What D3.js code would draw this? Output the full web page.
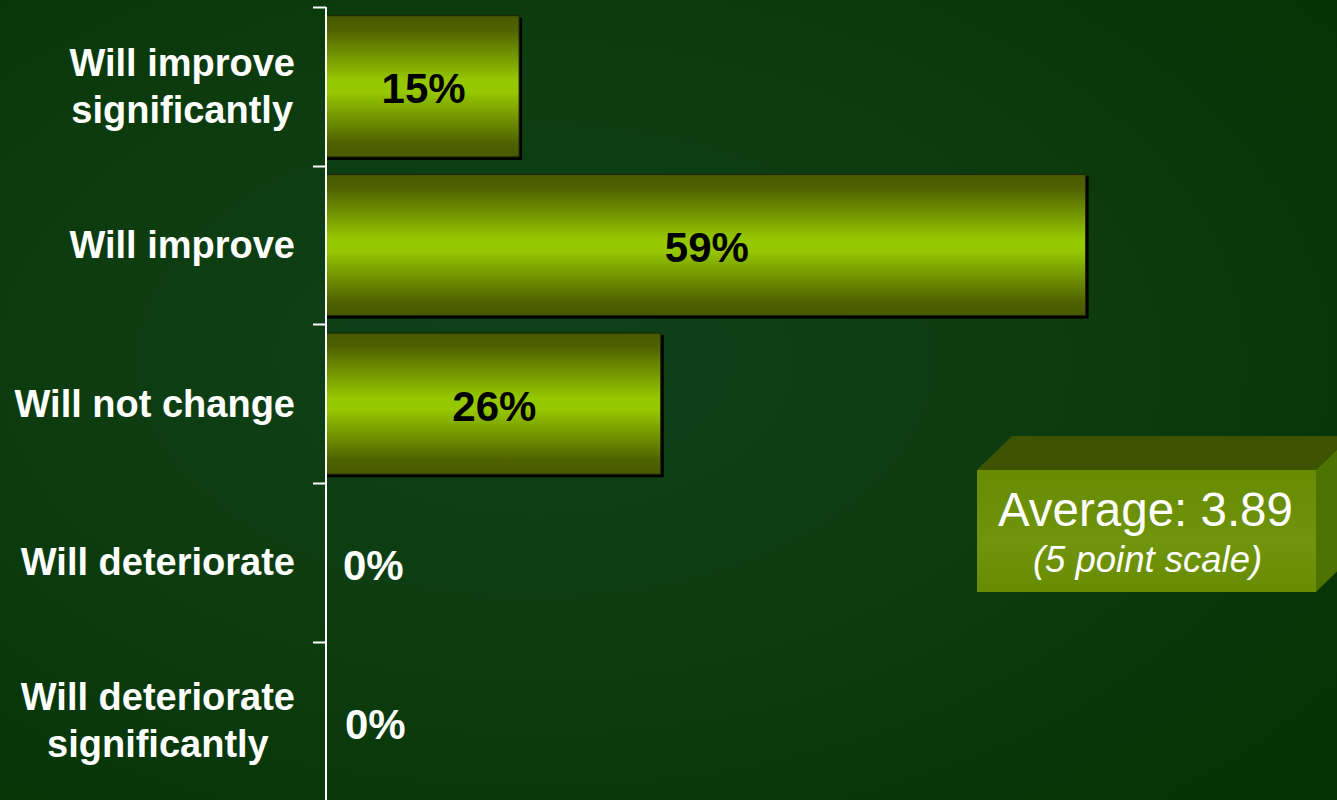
<!DOCTYPE html>
<html>
<head>
<meta charset="utf-8">
<script src="https://cdn.jsdelivr.net/npm/d3@7"></script>
<style>
  html, body { margin: 0; padding: 0; background: #0b3a0c; overflow: hidden; }
  svg { display: block; }
</style>
</head>
<body>
<svg id="chart" width="1337" height="800"></svg>
<script>
// Survey answers, top to bottom
const categories = [
  ["Will improve", "significantly"],
  ["Will improve"],
  ["Will not change"],
  ["Will deteriorate"],
  ["Will deteriorate", "significantly"]
];
const shares = [15, 59, 26, 0, 0];
const averageLabel = "Average: 3.89";
const scaleLabel = "(5 point scale)";

const W = 1337, H = 800;
const svg = d3.select("#chart");
const defs = svg.append("defs");

// Background: soft radial glow
const bg = defs.append("radialGradient").attr("id", "bg")
  .attr("cx", "40%").attr("cy", "45%").attr("r", "75%");
bg.append("stop").attr("offset", "0%").attr("stop-color", "#10411a");
bg.append("stop").attr("offset", "55%").attr("stop-color", "#0c3b0e");
bg.append("stop").attr("offset", "100%").attr("stop-color", "#043304");
svg.append("rect").attr("width", W).attr("height", H).attr("fill", "url(#bg)");

// Bar fill: dark olive edges, bright lime centre
const barGrad = defs.append("linearGradient").attr("id", "barGrad")
  .attr("x1", 0).attr("y1", 0).attr("x2", 0).attr("y2", 1);
[["0%", "#485800"], ["10%", "#4f6200"], ["46%", "#96c800"], ["54%", "#96c800"], ["90%", "#4f6200"], ["100%", "#485800"]]
  .forEach(([o, c]) => barGrad.append("stop").attr("offset", o).attr("stop-color", c));

const frontGrad = defs.append("linearGradient").attr("id", "frontGrad")
  .attr("x1", 0).attr("y1", 0).attr("x2", 0).attr("y2", 1);
frontGrad.append("stop").attr("offset", "0%").attr("stop-color", "#668a00");
frontGrad.append("stop").attr("offset", "60%").attr("stop-color", "#70940c");
frontGrad.append("stop").attr("offset", "100%").attr("stop-color", "#678c00");

const ids = categories.map((c, i) => i);
const y = d3.scaleBand().domain(ids).range([7, 800 + 0.3]).paddingInner(0).paddingOuter(0);
const x = d3.scaleLinear().domain([0, 80]).range([326, 1356]);

const barPad = 0.055;
const g = svg.append("g");

// Bars with drop shadow
const bars = g.selectAll("g.bar").data(ids.filter(i => shares[i] > 0)).join("g").attr("class", "bar");
bars.append("rect")
  .attr("x", x(0) + 1)
  .attr("y", i => y(i) + y.bandwidth() * barPad + 2)
  .attr("width", i => x(shares[i]) - x(0) + 2)
  .attr("height", y.bandwidth() * (1 - 2 * barPad) + 1)
  .attr("fill", "#000");
bars.append("rect")
  .attr("x", x(0))
  .attr("y", i => y(i) + y.bandwidth() * barPad)
  .attr("width", i => x(shares[i]) - x(0))
  .attr("height", y.bandwidth() * (1 - 2 * barPad))
  .attr("fill", "url(#barGrad)")
  .attr("stroke", "#1c2400")
  .attr("stroke-width", 1);

// Value labels
g.selectAll("text.val").data(ids).join("text")
  .attr("class", "val")
  .attr("x", i => shares[i] > 0 ? (x(0) + x(shares[i])) / 2 + 1 : x(0) + 17 + (i === 4 ? 2 : 0))
  .attr("y", i => y(i) + y.bandwidth() / 2 + 17 + (i >= 3 ? 1 : 0))
  .attr("text-anchor", i => shares[i] > 0 ? "middle" : "start")
  .attr("font-family", "Liberation Sans, Arial, sans-serif")
  .attr("font-weight", "bold")
  .attr("font-size", 42)
  .attr("fill", i => shares[i] > 0 ? "#000" : "#fff")
  .text(i => shares[i] + "%");

// Vertical axis with ticks at band boundaries
const axis = svg.append("g");
axis.append("line")
  .attr("x1", x(0)).attr("x2", x(0))
  .attr("y1", y(0)).attr("y2", H)
  .attr("stroke", "#fff").attr("stroke-width", 2);
axis.selectAll("line.tick").data(ids).join("line")
  .attr("class", "tick")
  .attr("x1", x(0) - 13).attr("x2", x(0))
  .attr("y1", i => Math.round(y(i)) + 0.5).attr("y2", i => Math.round(y(i)) + 0.5)
  .attr("stroke", "#fff").attr("stroke-width", 2);

// Category labels: block right-aligned, lines centred within block
const labelRight = 295;
ids.forEach(i => {
  const lines = categories[i];
  const t = svg.append("text")
    .attr("font-family", "Liberation Sans, Arial, sans-serif")
    .attr("font-weight", "bold")
    .attr("font-size", 38)
    .attr("fill", "#fff")
    .attr("text-anchor", "middle");
  const cy = y(i) + y.bandwidth() / 2;
  const lh = 47;
  const spans = lines.map((ln, k) => t.append("tspan")
    .attr("y", cy + 13 + (k - (lines.length - 1) / 2) * lh)
    .text(ln));
  const wMax = d3.max(spans, s => s.node().getComputedTextLength());
  spans.forEach(s => s.attr("x", labelRight - wMax / 2));
});

// 3-D callout box for the average score
const bx = 977, by = 470, bw = 339, bh = 122, dx = 35, dy = 34;
const box = svg.append("g");
box.append("path")
  .attr("d", `M${bx},${by} L${bx + dx},${by - dy} L${bx + bw + dx},${by - dy} L${bx + bw},${by} Z`)
  .attr("fill", "#3d5300");
box.append("path")
  .attr("d", `M${bx + bw},${by} L${bx + bw + dx},${by - dy} L${bx + bw + dx},${by + bh - dy} L${bx + bw},${by + bh} Z`)
  .attr("fill", "#4d7200");
box.append("rect")
  .attr("x", bx).attr("y", by).attr("width", bw).attr("height", bh)
  .attr("fill", "url(#frontGrad)");
box.append("text")
  .attr("x", bx + bw / 2 - 1).attr("y", 526)
  .attr("text-anchor", "middle")
  .attr("font-family", "Liberation Sans, Arial, sans-serif")
  .attr("font-size", 47.5)
  .attr("fill", "#fff")
  .text(averageLabel);
box.append("text")
  .attr("x", bx + bw / 2 + 1).attr("y", 572)
  .attr("text-anchor", "middle")
  .attr("font-family", "Liberation Sans, Arial, sans-serif")
  .attr("font-style", "italic")
  .attr("font-size", 36.5)
  .attr("fill", "#fff")
  .text(scaleLabel);
</script>
</body>
</html>
